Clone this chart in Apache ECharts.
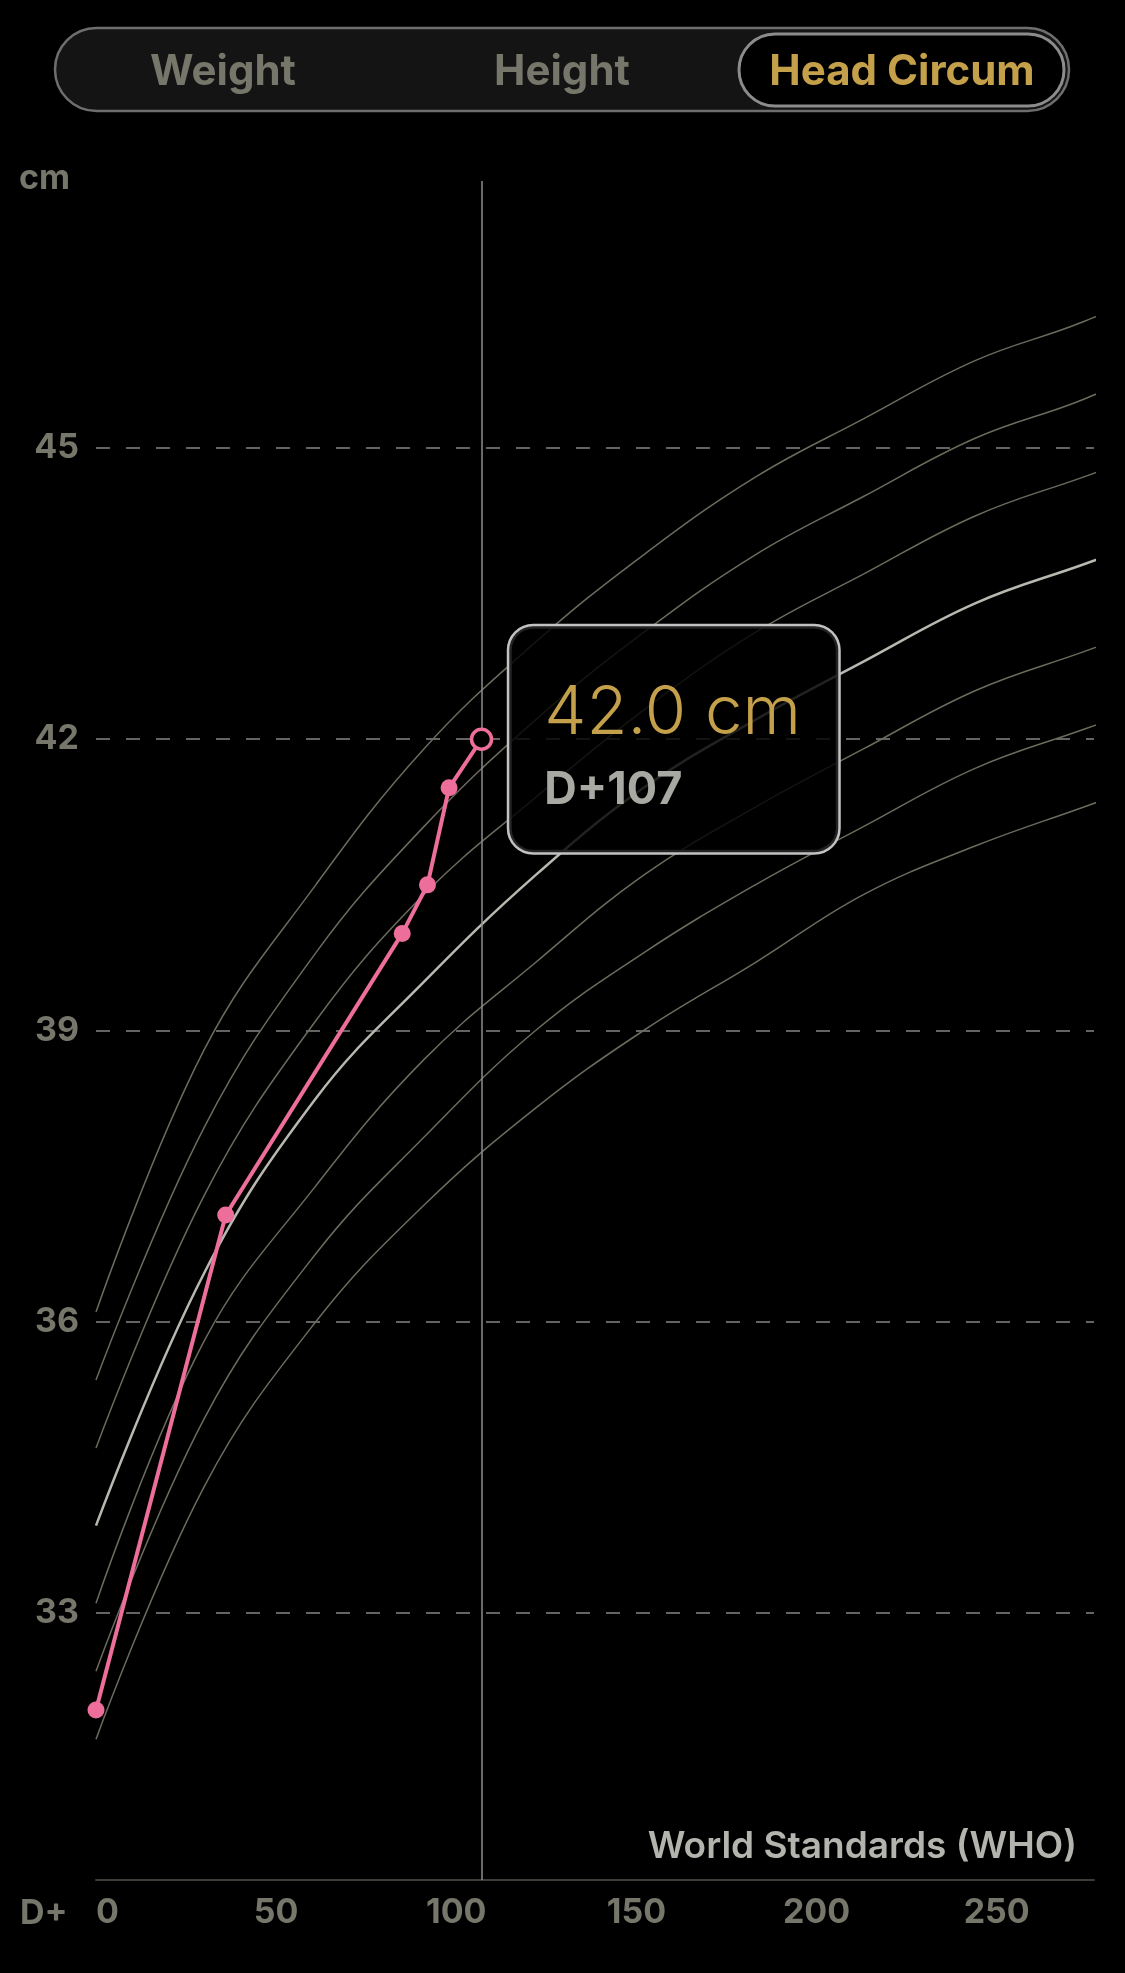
<!DOCTYPE html>
<html>
<head>
<meta charset="utf-8">
<title>Head Circum</title>
<script src="https://cdn.jsdelivr.net/npm/echarts@6/dist/echarts.min.js"></script>
<style>
  html, body { margin: 0; padding: 0; background: #000; }
  #chart { width: 1125px; height: 1973px; }
</style>
</head>
<body>
<div id="chart"></div>
<script>
  // WHO reference curves (girls, head circumference), one point per month, x = days
  const whoDays = [0, 30, 61, 91, 122, 152, 183, 213, 244, 274, 304];
  const p3  = [31.7, 34.3, 36.0, 37.2, 38.2, 39.0, 39.7, 40.4, 40.9, 41.3, 41.7];
  const p10 = [32.4, 35.0, 36.7, 37.9, 39.0, 39.8, 40.5, 41.1, 41.7, 42.1, 42.5];
  const p25 = [33.1, 35.8, 37.4, 38.7, 39.7, 40.6, 41.3, 41.9, 42.5, 42.9, 43.3];
  const p50 = [33.9, 36.5, 38.3, 39.5, 40.6, 41.5, 42.2, 42.8, 43.4, 43.8, 44.2];
  const p75 = [34.7, 37.3, 39.1, 40.4, 41.4, 42.3, 43.1, 43.7, 44.3, 44.7, 45.1];
  const p90 = [35.4, 38.0, 39.8, 41.1, 42.2, 43.1, 43.9, 44.5, 45.1, 45.5, 46.0];
  const p97 = [36.1, 38.8, 40.5, 41.9, 43.0, 43.9, 44.7, 45.3, 45.9, 46.3, 46.8];

  // measured values
  const babyDays = [0, 36, 85, 92, 98, 107];
  const babyHc = [32.0, 37.1, 40.0, 40.5, 41.5, 42.0];

  const tabs = ['Weight', 'Height', 'Head Circum'];
  const activeTab = 2;

  const FONT = 'Inter, "Noto Sans", sans-serif';
  const pink = '#ee6e9b';
  const gold = '#c5a04a';
  const olive = '#76766a';

  const chart = echarts.init(document.getElementById('chart'));

  function curve(values, color, width) {
    return {
      type: 'line',
      data: whoDays.map((d, i) => [d, values[i]]),
      smooth: 0.4,
      symbol: 'none',
      silent: true,
      lineStyle: { color: color, width: width },
      z: 2
    };
  }

  const last = babyDays.length - 1;
  const babyData = babyDays.map((d, i) => {
    if (i !== last) return [d, babyHc[i]];
    return {
      value: [d, babyHc[i]],
      symbolSize: 20,
      itemStyle: { color: '#000', borderColor: pink, borderWidth: 3.5 },
      label: {
        show: true,
        position: 'right',
        distance: 16,
        align: 'left',
        verticalAlign: 'middle',
        formatter: () => '{v|' + babyHc[last].toFixed(1) + ' cm}\n{d|D+' + babyDays[last] + '}',
        backgroundColor: 'rgba(0,0,0,0.82)',
        borderColor: '#c2c2c2',
        borderWidth: 2.5,
        borderRadius: 24,
        padding: [50, 45, 24, 35],
        width: 249,
        rich: {
          v: { fontFamily: FONT, fontSize: 67, fontWeight: 300, color: gold, lineHeight: 76 },
          d: { fontFamily: FONT, fontSize: 45, fontWeight: 'bold', color: '#a9a9a3', lineHeight: 76 }
        }
      }
    };
  });

  const series = [
    curve(p97, '#6b6b5e', 1.5),
    curve(p90, '#6b6b5e', 1.5),
    curve(p75, '#6b6b5e', 1.5),
    curve(p50, '#b8b8b1', 2.5),
    curve(p25, '#6b6b5e', 1.5),
    curve(p10, '#6b6b5e', 1.5),
    curve(p3, '#6b6b5e', 1.5),
    {
      type: 'line',
      data: babyData,
      symbol: 'circle',
      symbolSize: 17,
      showAllSymbol: true,
      silent: true,
      lineStyle: { color: pink, width: 4 },
      itemStyle: { color: pink },
      z: 5
    }
  ];
  // vertical marker under the pink line
  series[0].markLine = {
    silent: true,
    symbol: 'none',
    label: { show: false },
    lineStyle: { color: '#8e8e8e', width: 1.5, type: 'solid' },
    data: [{ xAxis: babyDays[last] }]
  };

  // segmented control at the top
  const tabCenters = [223, 562, 902];
  const graphic = [
    { type: 'rect', shape: { x: 55, y: 28, width: 1014, height: 83, r: 41.5 },
      style: { fill: '#141414', stroke: '#6e6e6e', lineWidth: 2.5 } },
    { type: 'rect', shape: { x: 739, y: 34, width: 325, height: 72, r: 36 },
      style: { fill: '#000', stroke: '#8c8c8c', lineWidth: 3 } }
  ];
  tabs.forEach((t, i) => {
    graphic.push({
      type: 'text', x: tabCenters[i], y: 72,
      style: { text: t, fontFamily: FONT, fontSize: 42, fontWeight: 'bold',
        fill: i === activeTab ? gold : olive,
        align: 'center', verticalAlign: 'middle', textAlign: 'center', textVerticalAlign: 'middle' }
    });
  });
  graphic.push(
    { type: 'text', x: 19, y: 179,
      style: { text: 'cm', fontFamily: FONT, fontSize: 34, fontWeight: 'bold', fill: olive,
        align: 'left', verticalAlign: 'middle', textAlign: 'left', textVerticalAlign: 'middle' } },
    { type: 'text', x: 20, y: 1914,
      style: { text: 'D+', fontFamily: FONT, fontSize: 34, fontWeight: 'bold', fill: olive,
        align: 'left', verticalAlign: 'middle', textAlign: 'left', textVerticalAlign: 'middle' } },
    { type: 'text', x: 1077, y: 1847,
      style: { text: 'World Standards (WHO)', fontFamily: FONT, fontSize: 37, fontWeight: 600, fill: '#b4b4ae',
        align: 'right', verticalAlign: 'middle', textAlign: 'right', textVerticalAlign: 'middle' } }
  );

  const option = {
    backgroundColor: '#000',
    animation: false,
    grid: { left: 96, right: 31, top: 181, bottom: 93, containLabel: false, outerBoundsMode: 'none' },
    xAxis: {
      type: 'value',
      min: 0,
      max: 277,
      interval: 50,
      axisLine: { show: true, onZero: false, lineStyle: { color: '#3d3d37', width: 2 } },
      axisTick: { show: false },
      splitLine: { show: false },
      axisLabel: {
        showMaxLabel: false, alignMinLabel: 'left', margin: 16,
        color: olive, fontFamily: FONT, fontSize: 34, fontWeight: 'bold'
      }
    },
    yAxis: {
      type: 'value',
      min: 30.25,
      max: 47.75,
      minInterval: 3,
      maxInterval: 3,
      axisLine: { show: false },
      axisTick: { show: false },
      axisLabel: {
        showMinLabel: false, showMaxLabel: false, margin: 17,
        color: olive, fontFamily: FONT, fontSize: 34, fontWeight: 'bold'
      },
      splitLine: {
        show: true, showMinLine: false, showMaxLine: false,
        lineStyle: { color: '#858585', width: 1.5, type: [14, 16] }
      }
    },
    series: series,
    graphic: graphic
  };
  chart.setOption(option);
</script>
</body>
</html>
